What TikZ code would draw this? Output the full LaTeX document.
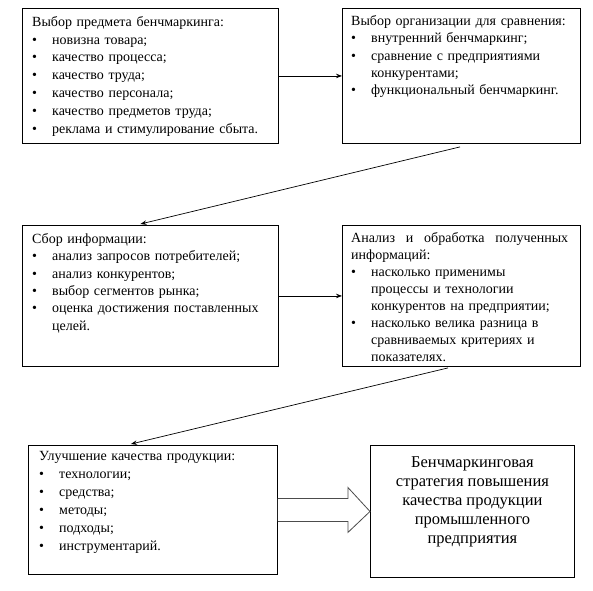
\documentclass[tikz,border=0pt]{standalone}
\usepackage{fontspec}
\setmainfont{Liberation Serif}
\usetikzlibrary{arrows.meta}
\newcommand\itm[1]{\par\hangindent=20pt\hangafter=1\noindent\makebox[20pt][l]{\textbullet}#1\par}
\newcommand\ttl[1]{\noindent\rule{0pt}{10pt}#1}
\tikzset{
  box/.style={draw, line width=0.9pt, inner sep=0pt, anchor=north west},
  txt/.style={inner sep=0pt, anchor=north west, align=left,
    font=\fontsize{14}{17.8}\selectfont},
  big/.style={inner sep=0pt, anchor=north, align=center,
    font=\fontsize{16.5}{19}\selectfont},
  conn/.style={line width=0.7pt, -{Stealth[length=6pt,width=4.5pt]}},
  hollow/.style={draw=black!70, line width=0.8pt, fill=white}
}
\begin{document}
\begin{tikzpicture}[x=1pt,y=-1pt]
\useasboundingbox (0,0) rectangle (593,590);
% boxes
\node[box, minimum width=256pt, minimum height=135pt] (b1) at (22,8) {};
\node[box, minimum width=238pt, minimum height=135pt] (b2) at (342,8) {};
\node[box, minimum width=256pt, minimum height=141pt] (b3) at (22,225) {};
\node[box, minimum width=238pt, minimum height=141pt] (b4) at (342,225) {};
\node[box, minimum width=249pt, minimum height=129pt] (b5) at (28,445) {};
\node[box, minimum width=204pt, minimum height=132pt] (b6) at (370,445) {};
% texts
\node[txt, text width=242pt] (t1) at ([shift={(10,8)}]b1.north west) {%
\ttl{Выбор предмета бенчмаркинга:}
\itm{новизна товара;}
\itm{качество процесса;}
\itm{качество труда;}
\itm{качество персонала;}
\itm{качество предметов труда;}
\itm{реклама и стимулирование сбыта.}};
\node[txt, text width=226pt, font=\fontsize{14}{17.4}\selectfont] (t2) at ([shift={(9,7)}]b2.north west) {%
\ttl{Выбор организации для сравнения:}
\itm{внутренний бенчмаркинг;}
\itm{сравнение с предприятиями\newline конкурентами;}
\itm{функциональный бенчмаркинг.}};
\node[txt, text width=242pt, font=\fontsize{14}{17.4}\selectfont] (t3) at ([shift={(10,8)}]b3.north west) {%
\ttl{Сбор информации:}
\itm{анализ запросов потребителей;}
\itm{анализ конкурентов;}
\itm{выбор сегментов рынка;}
\itm{оценка достижения поставленных\newline целей.}};
\node[txt, text width=217pt, font=\fontsize{14}{17}\selectfont] (t4) at ([shift={(9,7)}]b4.north west) {%
\ttl{Анализ\hfill и\hfill обработка\hfill полученных}\newline информаций:
\itm{насколько применимы\newline процессы и технологии\newline конкурентов на предприятии;}
\itm{насколько велика разница в\newline сравниваемых критериях и\newline показателях.}};
\node[txt, text width=232pt, font=\fontsize{14}{18}\selectfont] (t5) at ([shift={(11,5)}]b5.north west) {%
\ttl{Улучшение качества продукции:}
\itm{технологии;}
\itm{средства;}
\itm{методы;}
\itm{подходы;}
\itm{инструментарий.}};
\node[big] (t6) at ([shift={(0,11)}]b6.north) {Бенчмаркинговая\\стратегия повышения\\качества продукции\\промышленного\\предприятия};
% connectors
\draw[conn] (b1.east) -- (b2.west);
\draw[conn] (b3.east) -- (b4.west);
\coordinate (s2) at ([shift={(118,3)}]b2.south west);
\coordinate (e3) at ([shift={(-10,-1)}]b3.north);
\draw[conn] (s2) -- (e3);
\coordinate (s4) at ([shift={(106,1)}]b4.south west);
\coordinate (e5) at ([shift={(-22,-1)}]b5.north);
\draw[conn] (s4) -- (e5);
% hollow arrow
\coordinate (h0) at (b5.east);
\draw[hollow] ([shift={(0,-11.5)}]h0) -- ([shift={(70,-11.5)}]h0) -- ([shift={(70,-22.5)}]h0)
  -- (b6.west) -- ([shift={(70,22.5)}]h0) -- ([shift={(70,11.5)}]h0) -- ([shift={(0,11.5)}]h0);
\end{tikzpicture}
\end{document}
